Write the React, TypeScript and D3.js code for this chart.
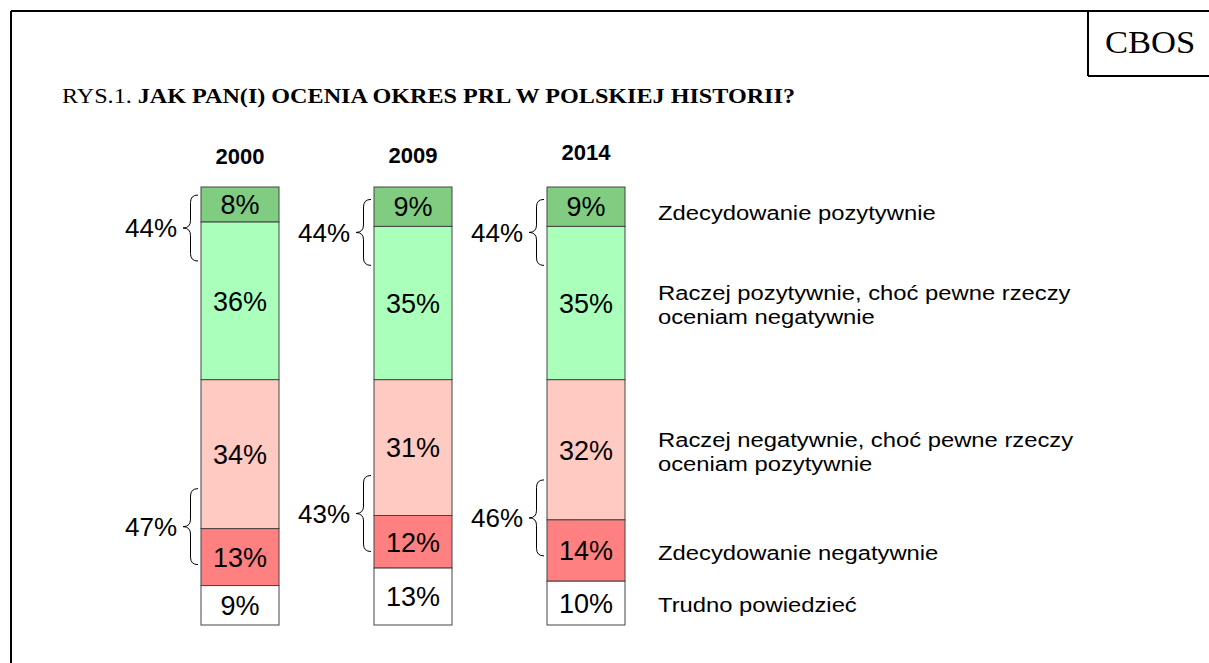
import * as d3 from "d3";

// data
const years = ["2000", "2009", "2014"];
const categories = [
  "Zdecydowanie pozytywnie",
  "Raczej pozytywnie, choć pewne rzeczy\noceniam negatywnie",
  "Raczej negatywnie, choć pewne rzeczy\noceniam pozytywnie",
  "Zdecydowanie negatywnie",
  "Trudno powiedzieć",
];
const values2000 = [8, 36, 34, 13, 9];
const values2009 = [9, 35, 31, 12, 13];
const values2014 = [9, 35, 32, 14, 10];
const positiveTotals = [44, 44, 44];
const negativeTotals = [47, 43, 46];
const colors = ["#80cc80", "#aaffbb", "#ffcac2", "#ff8080", "#ffffff"];

const W = 1209;
const H = 663;
const barWidth = 78;

const series = [values2000, values2009, values2014];

const x = d3.scalePoint<string>().domain(years).range([240, 586]);
const y = d3.scaleLinear().domain([0, 100]).range([187, 625]);

// left-facing curly brace, tip at (xr - w, yc)
function bracePath(xr: number, y0: number, y1: number, w: number) {
  const xm = xr - w / 2;
  const x0 = xr - w;
  const yc = (y0 + y1) / 2;
  const r = w / 2;
  return [
    `M${xr},${y0}`,
    `Q${xm},${y0} ${xm},${y0 + r}`,
    `L${xm},${yc - r}`,
    `Q${xm},${yc} ${x0},${yc}`,
    `Q${xm},${yc} ${xm},${yc + r}`,
    `L${xm},${y1 - r}`,
    `Q${xm},${y1} ${xr},${y1}`,
  ].join(" ");
}

const sans = "Arial, 'Liberation Sans', sans-serif";
const serif = "'Times New Roman', 'Liberation Serif', serif";

export default function App() {
  const stacks = series.map((vals) => {
    const cum = d3.cumsum(vals);
    return vals.map((v, i) => ({ v, start: cum[i] - v, end: cum[i] }));
  });
  const last = stacks[stacks.length - 1];

  return (
    <svg
      width={W}
      height={H}
      style={{ position: "absolute", left: 0, top: 0, background: "#fff" }}
    >
      {/* frame */}
      <line x1={11} y1={11} x2={W} y2={11} stroke="#000" strokeWidth={2} />
      <line x1={11} y1={11} x2={11} y2={H} stroke="#000" strokeWidth={2} />
      <line x1={1088} y1={11} x2={1088} y2={76} stroke="#000" strokeWidth={2} />
      <line x1={1088} y1={76} x2={W} y2={76} stroke="#000" strokeWidth={2} />
      <text
        transform="translate(1105,53) scale(1.08,1)"
        fontFamily={serif}
        fontSize={32}
      >
        CBOS
      </text>

      <text
        transform="translate(62,103) scale(1.15,1)"
        fontFamily={serif}
        fontSize={21}
      >
        RYS.1.{" "}
        <tspan fontWeight="bold">JAK PAN(I) OCENIA OKRES PRL W POLSKIEJ HISTORII?</tspan>
      </text>

      {years.map((yr, j) => {
        const cx = x(yr)!;
        const bx = cx - barWidth / 2;
        const segs = stacks[j];
        const posMid = y(segs[0].end) + 6;
        const negMid = y(segs[2].end) - 2;
        const braces = [
          { mid: posMid, half: 33, label: positiveTotals[j] },
          { mid: negMid, half: 38, label: negativeTotals[j] },
        ];
        return (
          <g key={yr}>
            <text
              x={cx}
              y={j === 2 ? 160 : 164 - j}
              textAnchor="middle"
              fontFamily={sans}
              fontWeight="bold"
              fontSize={22}
            >
              {yr}
            </text>
            {segs.map((s, i) => (
              <g key={i}>
                <rect
                  x={bx}
                  y={y(s.start)}
                  width={barWidth}
                  height={y(s.end) - y(s.start)}
                  fill={colors[i]}
                  stroke="#444"
                  strokeWidth={1}
                />
                <text
                  x={cx}
                  y={(y(s.start) + y(s.end)) / 2}
                  dy="0.36em"
                  textAnchor="middle"
                  fontFamily={sans}
                  fontSize={27}
                >
                  {s.v}%
                </text>
              </g>
            ))}
            {braces.map((b, k) => (
              <g key={k}>
                <path
                  d={bracePath(bx - 3, b.mid - b.half, b.mid + b.half, 15)}
                  fill="none"
                  stroke="#000"
                  strokeWidth={1}
                />
                <text
                  x={bx - 24}
                  y={b.mid}
                  dy="0.36em"
                  textAnchor="end"
                  fontFamily={sans}
                  fontSize={26}
                >
                  {b.label}%
                </text>
              </g>
            ))}
          </g>
        );
      })}

      {/* legend, aligned with the last bar's segments */}
      {categories.map((c, i) => {
        const lines = c.split("\n");
        const mid = (y(last[i].start) + y(last[i].end)) / 2 + (i === 0 ? 6 : 2);
        const lh = 24;
        const top = mid - ((lines.length - 1) * lh) / 2;
        return (
          <text
            key={i}
            transform={`translate(658,${top}) scale(1.19,1)`}
            fontFamily={sans}
            fontSize={20}
          >
            {lines.map((l, k) => (
              <tspan key={k} x={0} y={k * lh} dy="0.36em">
                {l}
              </tspan>
            ))}
          </text>
        );
      })}
    </svg>
  );
}
